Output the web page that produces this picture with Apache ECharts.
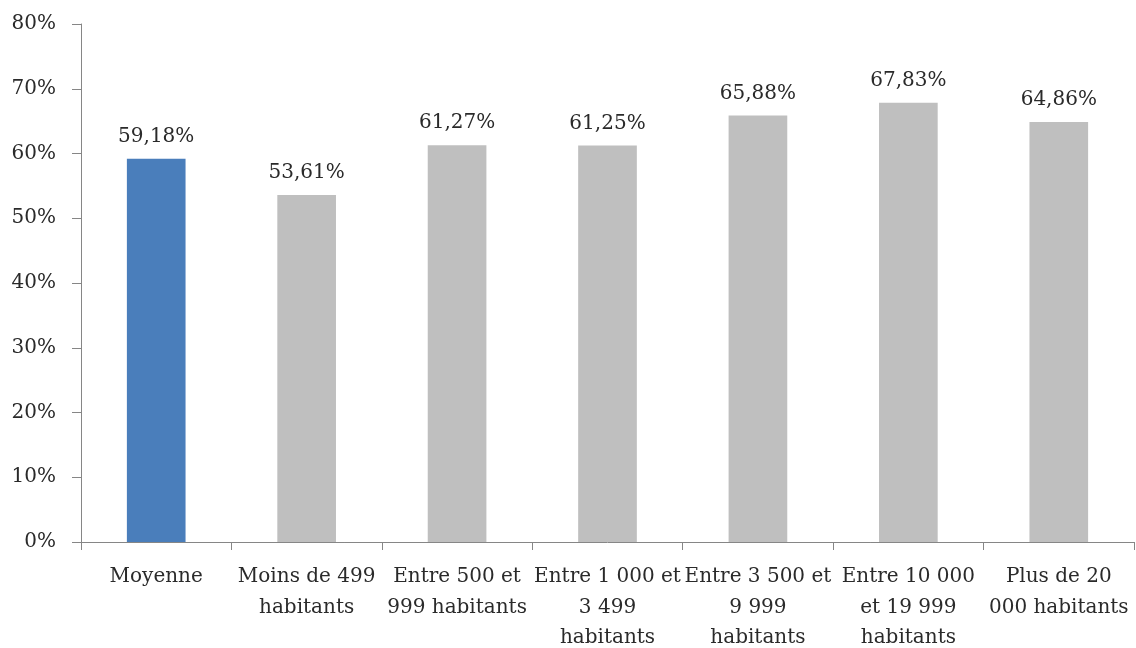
<!DOCTYPE html>
<html><head><meta charset="utf-8">
<script src="https://cdn.jsdelivr.net/npm/echarts@6/dist/echarts.min.js"></script>
<style>html,body{margin:0;padding:0;background:#fff}#c{width:1136px;height:648px}</style>
</head><body><div id="c"></div>
<script>
const categories = ["Moyenne","Moins de 499\nhabitants","Entre 500 et\n999 habitants","Entre 1 000 et\n3 499\nhabitants","Entre 3 500 et\n9 999\nhabitants","Entre 10 000\net 19 999\nhabitants","Plus de 20\n000 habitants"];
const values = [59.18, 53.61, 61.27, 61.25, 65.88, 67.83, 64.86];
const barColors = ["#4a7ebb","#bfbfbf","#bfbfbf","#bfbfbf","#bfbfbf","#bfbfbf","#bfbfbf"];
const yTicks = [0,10,20,30,40,50,60,70,80];

const font = "DejaVu Serif";
const chart = echarts.init(document.getElementById('c'));
chart.setOption({
  animation:false,
  grid:{left:81,right:2,top:24,bottom:106,containLabel:false,outerBoundsMode:'none'},
  xAxis:{type:'category',data:categories,
    axisLine:{lineStyle:{color:'#868686',width:1}},
    axisTick:{show:true,alignWithLabel:false,length:8,lineStyle:{color:'#868686'}},
    axisLabel:{interval:0,color:'#2a2a2a',fontFamily:font,fontSize:20,lineHeight:30.5,margin:20}
  },
  yAxis:{type:'value',min:yTicks[0],max:yTicks[yTicks.length-1],interval:10,
    splitLine:{show:false},
    axisLine:{show:true,lineStyle:{color:'#868686'}},
    axisTick:{show:true,length:9,lineStyle:{color:'#868686'}},
    axisLabel:{color:'#2a2a2a',fontFamily:font,fontSize:20,margin:25,formatter:v=>v+'%'}
  },
  series:[{type:'bar',barWidth:'39%',
    data:values.map((v,i)=>({value:v,itemStyle:{color:barColors[i]}})),
    label:{show:true,position:'top',distance:12,color:'#2a2a2a',fontFamily:font,fontSize:20,
      formatter:p=>p.value.toFixed(2).replace('.',',')+'%'}
  }]
});
</script></body></html>
